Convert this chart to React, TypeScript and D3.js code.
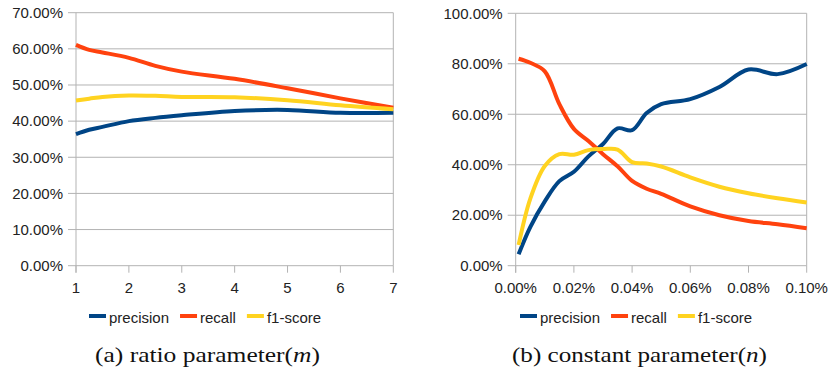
import { useEffect, useRef } from 'react'
import * as d3 from 'd3'

// (a) ratio parameter m
const mValues = [1, 1.25, 1.5, 2, 2.5, 3, 4, 5, 6, 7]
const mPrecision = [36.4, 37.6, 38.4, 40.0, 40.9, 41.6, 42.8, 43.1, 42.3, 42.3]
const mRecall = [61.1, 59.7, 59.0, 57.5, 55.3, 53.7, 51.7, 49.1, 46.3, 43.7]
const mF1 = [45.7, 46.2, 46.7, 47.1, 47.0, 46.7, 46.6, 45.8, 44.4, 43.3]
const mXTicks = [1, 2, 3, 4, 5, 6, 7]
const mYTicks = [0, 10, 20, 30, 40, 50, 60, 70]

// (b) constant parameter n, x in percent
const nValues = [0.001, 0.005, 0.01, 0.015, 0.02, 0.025, 0.03, 0.035, 0.04, 0.045, 0.05, 0.06, 0.07, 0.08, 0.09, 0.1]
const nPrecision = [4.5, 15.3, 25.5, 33.5, 37.2, 43.3, 48.2, 54.4, 53.7, 60.5, 64.0, 66.0, 70.8, 77.7, 75.9, 79.9]
const nRecall = [82.0, 80.4, 77.0, 64.0, 54.2, 49.4, 44.2, 39.4, 33.6, 30.5, 28.5, 23.5, 20.0, 17.7, 16.4, 14.8]
const nF1 = [8.2, 26.5, 39.5, 44.2, 44.0, 45.8, 46.2, 46.0, 41.0, 40.5, 39.3, 35.0, 31.3, 28.7, 26.7, 25.0]
const nXTicks = [0, 0.02, 0.04, 0.06, 0.08, 0.1]
const nYTicks = [0, 20, 40, 60, 80, 100]

const seriesNames = ['precision', 'recall', 'f1-score']
const COLORS = ['#004586', '#ff420e', '#ffd320']

const FONT = '"Liberation Sans", Arial, sans-serif'
const GRID = '#b3b3b3'

type PanelCfg = {
  xs: number[]
  series: number[][]
  xDomain: [number, number]
  yMax: number
  xTicks: number[]
  yTicks: number[]
  xFmt: (d: number) => string
  box: { left: number; right: number; top: number; bottom: number }
  legendX: number
  captionX: number
  captionW: number
  captionPre: string
  captionVar: string
}

function drawPanel(svg: d3.Selection<SVGSVGElement, unknown, null, undefined>, c: PanelCfg) {
  const { left, right, top, bottom } = c.box
  const x = d3.scaleLinear().domain(c.xDomain).range([left, right])
  const y = d3.scaleLinear().domain([0, c.yMax]).range([bottom, top])
  const g = svg.append('g')

  // horizontal grid
  g.selectAll('.grid')
    .data(c.yTicks)
    .join('line')
    .attr('x1', left).attr('x2', right)
    .attr('y1', d => y(d)).attr('y2', d => y(d))
    .attr('stroke', GRID).attr('stroke-width', 1)

  // frame: left axis and right edge
  g.append('line').attr('x1', left).attr('x2', left).attr('y1', top).attr('y2', bottom + 7)
    .attr('stroke', GRID).attr('stroke-width', 1)
  g.append('line').attr('x1', right).attr('x2', right).attr('y1', top).attr('y2', bottom)
    .attr('stroke', GRID).attr('stroke-width', 1)

  // y ticks
  g.selectAll('.ytick')
    .data(c.yTicks)
    .join('line')
    .attr('x1', left - 8).attr('x2', left)
    .attr('y1', d => y(d)).attr('y2', d => y(d))
    .attr('stroke', GRID)
  g.selectAll('.ylab')
    .data(c.yTicks)
    .join('text')
    .attr('x', left - 13)
    .attr('y', d => y(d))
    .attr('dy', '0.35em')
    .attr('text-anchor', 'end')
    .attr('font-family', FONT).attr('font-size', '15px').attr('fill', '#222')
    .text(d => d.toFixed(2) + '%')

  // x ticks
  g.selectAll('.xtick')
    .data(c.xTicks)
    .join('line')
    .attr('x1', d => x(d)).attr('x2', d => x(d))
    .attr('y1', bottom).attr('y2', bottom + 7)
    .attr('stroke', GRID)
  g.selectAll('.xlab')
    .data(c.xTicks)
    .join('text')
    .attr('x', d => x(d))
    .attr('y', bottom + 27)
    .attr('text-anchor', 'middle')
    .attr('font-family', FONT).attr('font-size', '15px').attr('fill', '#222')
    .text(d => c.xFmt(d))

  // lines
  const line = d3.line<[number, number]>()
    .x(d => x(d[0]))
    .y(d => y(d[1]))
    .curve(d3.curveCatmullRom.alpha(0.5))
  c.series.forEach((vals, i) => {
    g.append('path')
      .datum(c.xs.map((xv, j) => [xv, vals[j]] as [number, number]))
      .attr('d', line)
      .attr('fill', 'none')
      .attr('stroke', COLORS[i])
      .attr('stroke-width', 4)
      .attr('stroke-linejoin', 'round')
  })

  // legend
  let lx = c.legendX
  seriesNames.forEach((name, i) => {
    g.append('rect')
      .attr('x', lx).attr('y', 314).attr('width', 17).attr('height', 4)
      .attr('fill', COLORS[i])
    const t = g.append('text')
      .attr('x', lx + 20).attr('y', 322.5)
      .attr('font-family', FONT).attr('font-size', '15px').attr('fill', '#222')
      .text(name)
    const w = (t.node() as SVGTextElement).getComputedTextLength()
    lx += 20 + w + 11
  })

  // caption
  const cap = g.append('text')
    .attr('x', c.captionX - c.captionW / 2).attr('y', 362)
    .attr('font-family', '"Liberation Serif", "Times New Roman", serif')
    .attr('font-size', '21px').attr('fill', '#111')
    .attr('textLength', c.captionW).attr('lengthAdjust', 'spacingAndGlyphs')
  cap.append('tspan').text(c.captionPre + '(')
  cap.append('tspan').attr('font-style', 'italic').text(c.captionVar)
  cap.append('tspan').text(')')
}

export default function App() {
  const ref = useRef<SVGSVGElement>(null)

  useEffect(() => {
    const svg = d3.select(ref.current as SVGSVGElement)
    svg.selectAll('*').remove()

    drawPanel(svg, {
      xs: mValues,
      series: [mPrecision, mRecall, mF1],
      xDomain: [1, 7],
      yMax: 70,
      xTicks: mXTicks,
      yTicks: mYTicks,
      xFmt: d => String(d),
      box: { left: 76, right: 393.3, top: 12.7, bottom: 265.7 },
      legendX: 89,
      captionX: 207.5,
      captionW: 225,
      captionPre: '(a) ratio parameter',
      captionVar: 'm'
    })

    drawPanel(svg, {
      xs: nValues,
      series: [nPrecision, nRecall, nF1],
      xDomain: [0, 0.1],
      yMax: 100,
      xTicks: nXTicks,
      yTicks: nYTicks,
      xFmt: d => d.toFixed(2) + '%',
      box: { left: 515.7, right: 806.7, top: 13.3, bottom: 265.7 },
      legendX: 520,
      captionX: 639.5,
      captionW: 255,
      captionPre: '(b) constant parameter',
      captionVar: 'n'
    })
  }, [])

  return (
    <svg
      ref={ref}
      width={829}
      height={378}
      style={{ position: 'absolute', left: 0, top: 0, background: '#fff' }}
    />
  )
}
